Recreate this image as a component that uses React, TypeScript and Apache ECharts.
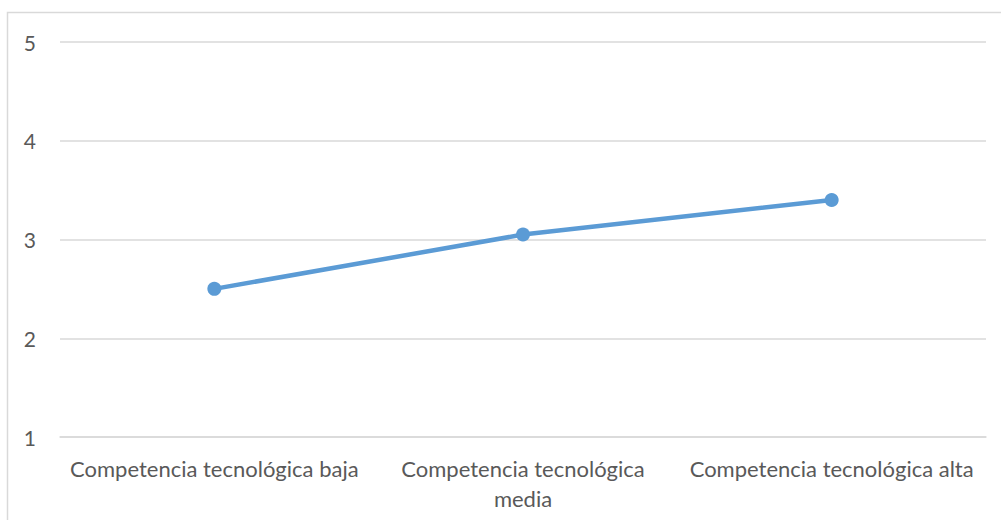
import React, { useEffect, useRef } from "react";
import * as echarts from "echarts";

const categories = [
  "Competencia tecnológica baja",
  "Competencia tecnológica media",
  "Competencia tecnológica alta",
];
const values = [2.5, 3.05, 3.4];
const yTicks = [1, 2, 3, 4, 5];
// category labels that wrap onto a second line in the reference
const wrappedCategories = ["Competencia tecnológica media"];

export default function App() {
  const ref = useRef<HTMLDivElement>(null);
  useEffect(() => {
    const chart = echarts.init(ref.current!, null, { renderer: "svg" });
    chart.setOption({
      animation: false,
      textStyle: { fontFamily: "Lato" },
      graphic: [
        {
          type: "rect",
          shape: { x: 7.5, y: 12.5, width: 1010, height: 520 },
          style: { fill: "none", stroke: "#d9d9d9", lineWidth: 1.5 },
          silent: true,
        },
      ],
      grid: { left: 60, right: 15, top: 42, height: 395, containLabel: false },
      xAxis: {
        type: "category",
        data: categories,
        boundaryGap: true,
        axisLine: { lineStyle: { color: "#d9d9d9", width: 1.5 } },
        axisTick: { show: false },
        axisLabel: {
          color: "#595959",
          fontSize: 22,
          fontFamily: "Lato",
          margin: 16,
          lineHeight: 30,
          interval: 0,
          formatter: (v: string) => {
            if (wrappedCategories.includes(v)) {
              const i = v.lastIndexOf(" ");
              return v.slice(0, i) + "\n" + v.slice(i + 1);
            }
            return v;
          },
        },
      },
      yAxis: {
        type: "value",
        min: yTicks[0],
        max: yTicks[yTicks.length - 1],
        interval: 1,
        axisLine: { show: false },
        axisTick: { show: false },
        splitLine: { lineStyle: { color: "#d9d9d9", width: 1.5 } },
        axisLabel: { color: "#595959", fontSize: 21, fontFamily: "Lato", margin: 24 },
      },
      series: [
        {
          type: "line",
          data: values,
          lineStyle: { color: "#5b9bd5", width: 4.5 },
          itemStyle: { color: "#5b9bd5" },
          symbol: "circle",
          symbolSize: 14,
        },
      ],
    });
    return () => chart.dispose();
  }, []);
  return (
    <div
      ref={ref}
      style={{ position: "fixed", left: 0, top: 0, width: 1001, height: 520, background: "#fff" }}
    />
  );
}
